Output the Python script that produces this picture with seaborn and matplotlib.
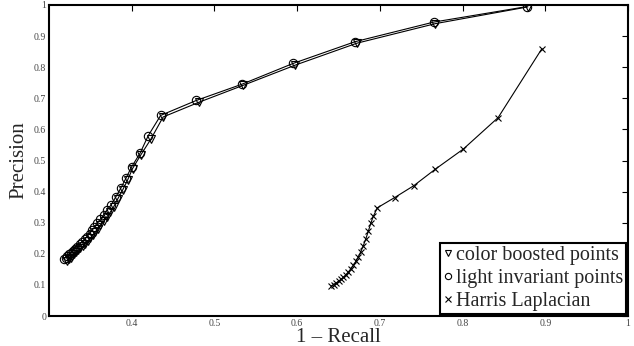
import matplotlib
matplotlib.use("Agg")
import matplotlib.pyplot as plt
import seaborn as sns
import pandas as pd
from matplotlib.lines import Line2D

# Light invariant points (circles)
li_x = [0.318, 0.320, 0.322, 0.324, 0.326, 0.329, 0.331, 0.334, 0.337, 0.340,
        0.343, 0.346, 0.349, 0.352, 0.355, 0.358, 0.362, 0.366, 0.370, 0.375,
        0.381, 0.387, 0.393, 0.400, 0.410, 0.420, 0.435, 0.478, 0.533, 0.595,
        0.670, 0.765, 0.878]
li_y = [0.183, 0.188, 0.193, 0.198, 0.204, 0.210, 0.216, 0.223, 0.230, 0.238,
        0.246, 0.255, 0.265, 0.275, 0.286, 0.298, 0.311, 0.325, 0.340, 0.357,
        0.384, 0.412, 0.443, 0.480, 0.523, 0.580, 0.645, 0.693, 0.745, 0.812,
        0.882, 0.945, 0.995]

# Color boosted points (down triangles)
cb_x = [0.322, 0.324, 0.326, 0.328, 0.330, 0.333, 0.335, 0.338, 0.341, 0.344,
        0.347, 0.350, 0.353, 0.356, 0.359, 0.362, 0.366, 0.370, 0.374, 0.378,
        0.383, 0.389, 0.395, 0.401, 0.411, 0.423, 0.438, 0.481, 0.535, 0.598,
        0.672, 0.767, 0.879]
cb_y = [0.178, 0.183, 0.188, 0.193, 0.199, 0.205, 0.211, 0.218, 0.225, 0.233,
        0.241, 0.250, 0.260, 0.270, 0.281, 0.292, 0.305, 0.319, 0.334, 0.350,
        0.376, 0.405, 0.437, 0.474, 0.518, 0.568, 0.640, 0.687, 0.742, 0.807,
        0.877, 0.940, 0.994]

# Harris Laplacian (x markers)
hl_x = [0.641, 0.644, 0.647, 0.650, 0.653, 0.656, 0.659, 0.662, 0.665, 0.668,
        0.671, 0.674, 0.677, 0.680, 0.683, 0.686, 0.689, 0.692, 0.697, 0.718,
        0.741, 0.767, 0.801, 0.843, 0.896]
hl_y = [0.096, 0.101, 0.106, 0.112, 0.118, 0.125, 0.133, 0.142, 0.152, 0.163,
        0.176, 0.190, 0.207, 0.226, 0.248, 0.272, 0.298, 0.320, 0.348, 0.381,
        0.419, 0.472, 0.537, 0.638, 0.860]

x_ticks = [0.4, 0.5, 0.6, 0.7, 0.8, 0.9, 1.0]
x_tick_labels = ["0.4", "0.5", "0.6", "0.7", "0.8", "0.9", "1"]
y_ticks = [0, 0.1, 0.2, 0.3, 0.4, 0.5, 0.6, 0.7, 0.8, 0.9, 1.0]
y_tick_labels = ["0", "0.1", "0.2", "0.3", "0.4", "0.5", "0.6", "0.7", "0.8", "0.9", "1"]
labels = ["color boosted points", "light invariant points", "Harris Laplacian"]

sns.set_theme(style="white")
plt.rcParams['font.family'] = ['Liberation Serif', 'DejaVu Serif']

fig = plt.figure(figsize=(6.34, 3.46), dpi=100)
ax = fig.add_axes([49/634, 30/346, (628-49)/634, (316-5)/346])

df_cb = pd.DataFrame({"x": cb_x, "y": cb_y})
df_li = pd.DataFrame({"x": li_x, "y": li_y})
df_hl = pd.DataFrame({"x": hl_x, "y": hl_y})

common = dict(color="black", linewidth=0.8, sort=False, estimator=None, ax=ax)
sns.lineplot(data=df_cb, x="x", y="y", marker="v", markersize=6,
             markerfacecolor="none", markeredgecolor="black", markeredgewidth=0.8, **common)
sns.lineplot(data=df_li, x="x", y="y", marker="o", markersize=6,
             markerfacecolor="none", markeredgecolor="black", markeredgewidth=0.8, **common)
sns.lineplot(data=df_hl, x="x", y="y", marker="x", markersize=4.5,
             markeredgecolor="black", markeredgewidth=0.8, **common)

ax.set_xlim(0.3, 1.0)
ax.set_ylim(0, 1)
ax.set_xticks(x_ticks)
ax.set_xticklabels(x_tick_labels)
ax.set_yticks(y_ticks)
ax.set_yticklabels(y_tick_labels)
ax.tick_params(direction="in", length=4, width=0.8, labelsize=7,
               labelcolor="#444444", color="black", top=True, right=True,
               pad=2)
for s in ax.spines.values():
    s.set_color("black")
    s.set_linewidth(1.5)

ax.set_xlabel("1 – Recall", fontsize=15, labelpad=0)
ax.set_ylabel("Precision", fontsize=15, labelpad=4)

handles = [
    Line2D([], [], linestyle="none", marker="v", markersize=4.5, markerfacecolor="none",
           markeredgecolor="black", markeredgewidth=0.8),
    Line2D([], [], linestyle="none", marker="o", markersize=4.5, markerfacecolor="none",
           markeredgecolor="black", markeredgewidth=0.8),
    Line2D([], [], linestyle="none", marker="x", markersize=4, markeredgecolor="black",
           markeredgewidth=0.8),
]
leg = ax.legend(handles, labels, loc="lower right", fontsize=14.5, frameon=True,
                fancybox=False, handlelength=0.5, handletextpad=0.15,
                borderpad=0.15, labelspacing=0.2, borderaxespad=0.1)
leg.get_frame().set_edgecolor("black")
leg.get_frame().set_linewidth(1.5)
leg.get_frame().set_alpha(1)

fig.savefig("out.png", dpi=100)
